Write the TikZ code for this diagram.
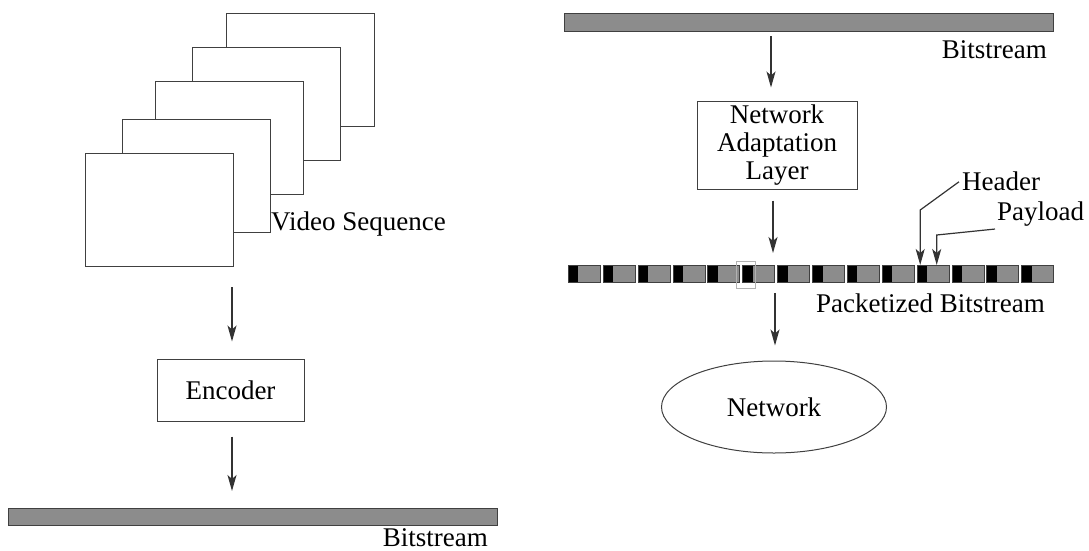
\documentclass[tikz,border=0pt]{standalone}
\usepackage{fontspec}
\setmainfont{LiberationSerif-Regular.ttf}
\newfontfamily\tnr{LiberationSerif-Regular.ttf}
\usetikzlibrary{arrows.meta,shapes.geometric,calc}
\tikzset{
  txt/.style={font=\tnr\fontsize{27}{28}\selectfont},
  lbl/.style={inner sep=0pt,txt},
  frame/.style={draw=black!75,line width=1pt,fill=white,anchor=north west,inner sep=0pt,minimum width=148pt,minimum height=113pt},
  boxnode/.style={draw=black!75,line width=1pt,fill=white,inner sep=0pt,align=center,txt},
  bar/.style={draw=black!75,line width=1pt,fill=black!45,anchor=north west,inner sep=0pt,minimum height=17pt},
  pkt/.style={draw=black!75,line width=0.8pt,fill=black!45,anchor=north west,inner sep=0pt,minimum width=32pt,minimum height=17pt,
    path picture={\fill[black] (path picture bounding box.north west) rectangle ([xshift=10pt]path picture bounding box.south west);}},
  arr/.style={draw=black!80,line width=1.2pt,-{Stealth[length=16pt,width=9pt,inset=4pt]}},
}
\begin{document}
\begin{tikzpicture}[x=1pt,y=-1pt]
\useasboundingbox (0,0) rectangle (1089,550);
% video frames
\node[frame] (f5) at (226,13) {};
\node[frame] (f4) at (192,47) {};
\node[frame] (f3) at (155,81) {};
\node[frame] (f2) at (122,119) {};
\node[frame] (f1) at (85,153) {};
\node[lbl,anchor=base west] (vs) at (271,230) {Video Sequence};
% encoder
\node[boxnode,minimum width=147pt,minimum height=62pt] (enc) at (230.5,390) {Encoder};
\coordinate (a1) at (232,287);
\draw[arr,shorten >=17pt] (a1) -- (a1 |- enc.north);
% bottom bitstream
\node[bar,minimum width=489pt] (bar1) at (8,508) {};
\node[lbl,anchor=base east] (bs1) at (488,546) {Bitstream};
\draw[arr,shorten <=15pt,shorten >=17pt] ([xshift=1.5pt]enc.south) -- ([xshift=1.5pt]enc.south |- bar1.north);
% top bitstream
\node[bar,minimum width=489pt,minimum height=18pt] (bar2) at (564,13) {};
\node[lbl,anchor=base east] (bs2) at (1047,58) {Bitstream};
% NAL
\node[boxnode,minimum width=160pt,minimum height=88pt] (nal) at (777,145) {Network\\Adaptation\\Layer};
\draw[arr,shorten <=4pt,shorten >=13pt] (bar2.south -| 771,0) -- (nal.north -| 771,0);
% packets
\foreach \i in {1,...,14}{
  \node[pkt] (p\i) at ({568+(\i-1)*34.87},265) {};
}
\node[draw=black!30,line width=1pt,inner sep=0pt,minimum width=18.5pt,minimum height=27pt,anchor=north west] (hl) at (736,261) {};
\node[lbl,anchor=base east] (pb) at (1045,312) {Packetized Bitstream};
\draw[arr,shorten <=11pt,shorten >=12pt] (nal.south -| 773,0) -- (p6.north -| 773,0);
% network
\node[draw=black!75,line width=1pt,ellipse,inner sep=0pt,minimum width=225pt,minimum height=92pt,txt] (net) at (774,407) {Network};
\draw[arr,shorten <=10pt,shorten >=15pt] (p6.south -| 775,0) -- (net.north -| 775,0);
% header / payload
\node[lbl,anchor=base west] (hdr) at (962,190) {Header};
\node[lbl,anchor=base west] (pay) at (997,220) {Payload};
\draw[arr] ([xshift=-3pt,yshift=-1pt]hdr.west) -- ([xshift=3.5pt,yshift=55pt]p11.north west) -- ([xshift=3.5pt]p11.north west);
\draw[arr] ([xshift=-2pt,yshift=-3pt]pay.south west) -- ([xshift=20pt,yshift=30pt]p11.north west) -- ([xshift=20pt]p11.north west);
\end{tikzpicture}
\end{document}
